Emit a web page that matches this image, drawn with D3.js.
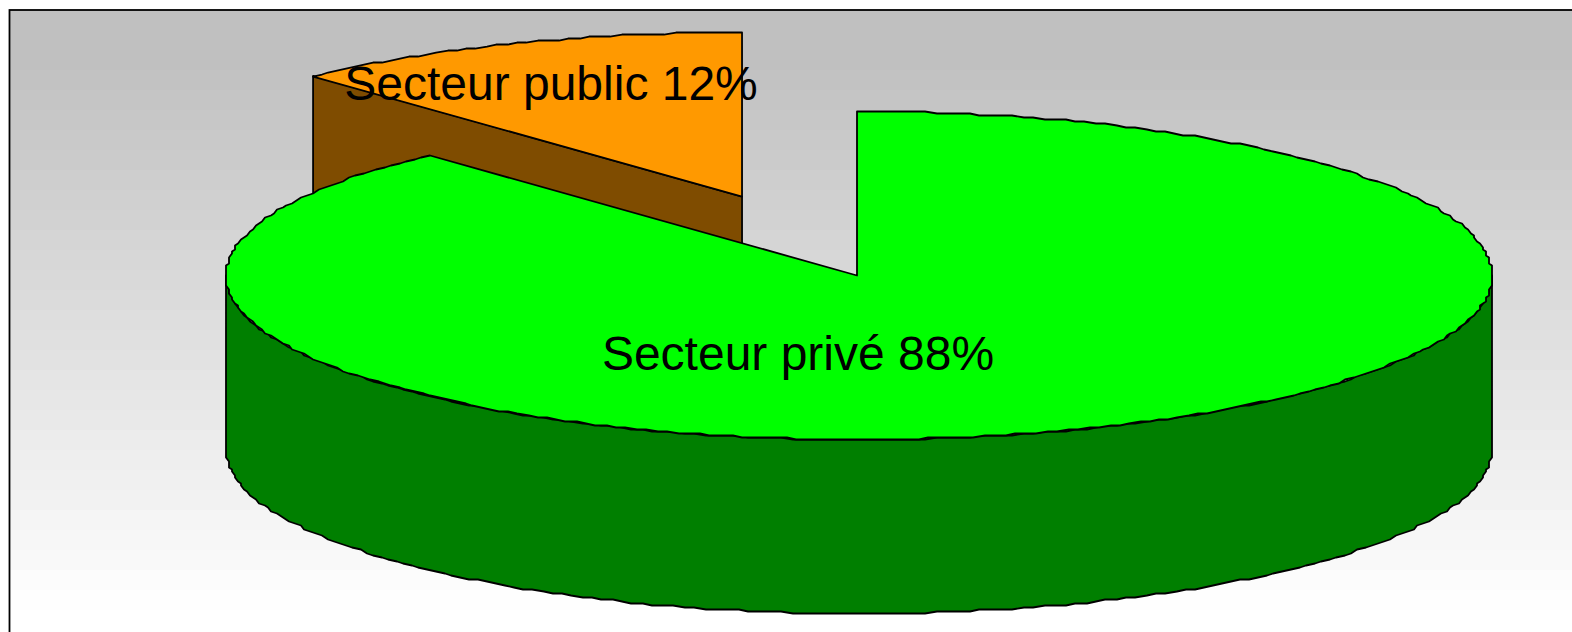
<!DOCTYPE html>
<html>

<head>
  <meta charset="utf-8">
  <title>secteurs</title>
  <script src="https://d3js.org/d3.v7.min.js"></script>
  <style>
    html, body { margin: 0; padding: 0; background: #fff; overflow: hidden; }
    svg { display: block; }
  </style>
</head>

<body>
  <svg width="1572" height="632" id="mainsvg"></svg>
  <script>
    // data
    const sectors = ["Secteur privé", "Secteur public"];
    const shares = [88.15, 11.85];
    const shownPercent = [88, 12];
    const topColors = ["#00ff00", "#ff9900"];
    const sideColors = ["#007f00", "#7f4c00"];
    const explodeX = [0, 0.508];
    const explodeY = [0, 0.517];

    const svg = d3.select("#mainsvg");
    const width = +svg.attr("width"), height = +svg.attr("height");

    // layout
    const cx = 859, cy = 275.5, rx = 633, ry = 164, depth = 174;
    const frameX = 9.5, frameY = 10;
    const gridX = 3, gridY = 2; // the outline of the reference is stepped, snap to this
    const labelPos = [[798, 370], [551, 100]];

    // background, stepped gradient
    const bands = d3.range(frameY, height, 20).map(Math.round);
    const bandColor = d3.scaleLinear()
      .domain([frameY + 40, 600])
      .range(["#c0c0c0", "#ffffff"])
      .clamp(true);

    svg.selectAll("rect.band").data(bands)
      .enter().append("rect")
      .attr("class", "band")
      .attr("x", frameX)
      .attr("y", d => d)
      .attr("width", width - frameX + 5)
      .attr("height", 20)
      .attr("shape-rendering", "crispEdges")
      .attr("fill", d => bandColor(d));

    svg.append("rect")
      .attr("x", frameX)
      .attr("y", frameY)
      .attr("width", width)
      .attr("height", height)
      .attr("fill", "none")
      .attr("stroke", "#000")
      .attr("stroke-width", 1.8);

    // angle (0 = top, clockwise) to flat ellipse
    const px = d3.scaleLinear().domain([-1, 1]).range([-rx, rx]);
    const py = d3.scaleLinear().domain([-1, 1]).range([-ry, ry]);

    function rimPoints(a0, a1, ox, oy) {
      const n = Math.max(2, Math.ceil(Math.abs(a1 - a0) / (Math.PI / 180)));
      return d3.range(n + 1).map(i => {
        const a = a0 + (a1 - a0) * i / n;
        return [
          ox + Math.round(px(Math.sin(a)) / gridX) * gridX,
          oy + Math.round(py(-Math.cos(a)) / gridY) * gridY
        ];
      });
    }

    const line = d3.line();
    const pie = d3.pie().sort(null).startAngle(0).endAngle(2 * Math.PI);
    const arcs = pie(shares).map((d, i) => {
      const mid = (d.startAngle + d.endAngle) / 2;
      return {
        ...d,
        i: i,
        ox: cx + px(Math.sin(mid)) * explodeX[i],
        oy: cy + py(-Math.cos(mid)) * explodeY[i],
        apexX: cx + px(Math.sin(mid)) * explodeX[i] - (i ? 0 : 2)
      };
    });

    const g = svg.append("g")
      .attr("stroke", "#000")
      .attr("stroke-width", 1.8)
      .attr("stroke-linejoin", "round");

    // slices further back go first
    arcs.slice().reverse().forEach(d => {
      const side = sideColors[d.i];
      if (explodeX[d.i] > 0) {
        // cut face of the pulled-out slice
        const rim = [d.ox + px(Math.sin(d.startAngle)), d.oy + py(-Math.cos(d.startAngle))];
        const ctr = [d.apexX, d.oy];
        g.append("path")
          .attr("d", line([rim, ctr, [ctr[0], ctr[1] + depth], [rim[0], rim[1] + depth]]) + "Z")
          .attr("fill", side);
      } else {
        // outer wall, only the front half of the ellipse
        const front = rimPoints(Math.PI / 2, 3 * Math.PI / 2, d.ox, d.oy);
        const wall = front.concat(front.slice().reverse().map(p => [p[0], p[1] + depth]));
        g.append("path")
          .attr("d", line(wall) + "Z")
          .attr("fill", side);
      }
      const rimTop = rimPoints(d.startAngle, d.endAngle, d.ox, d.oy);
      if (d.startAngle === 0) rimTop[0][0] = d.apexX; // vertical cut edge, straight up from the apex
      g.append("path")
        .attr("d", line([[d.apexX, d.oy]].concat(rimTop)) + "Z")
        .attr("fill", topColors[d.i]);
    });

    // labels
    svg.selectAll("text.label").data(sectors)
      .enter().append("text")
      .attr("class", "label")
      .attr("x", (d, i) => labelPos[i][0])
      .attr("y", (d, i) => labelPos[i][1])
      .attr("text-anchor", "middle")
      .attr("font-family", "'Liberation Sans', Arial, sans-serif")
      .attr("font-size", 48)
      .attr("fill", "#000")
      .text((d, i) => d + " " + shownPercent[i] + "%");
  </script>
</body>

</html>
